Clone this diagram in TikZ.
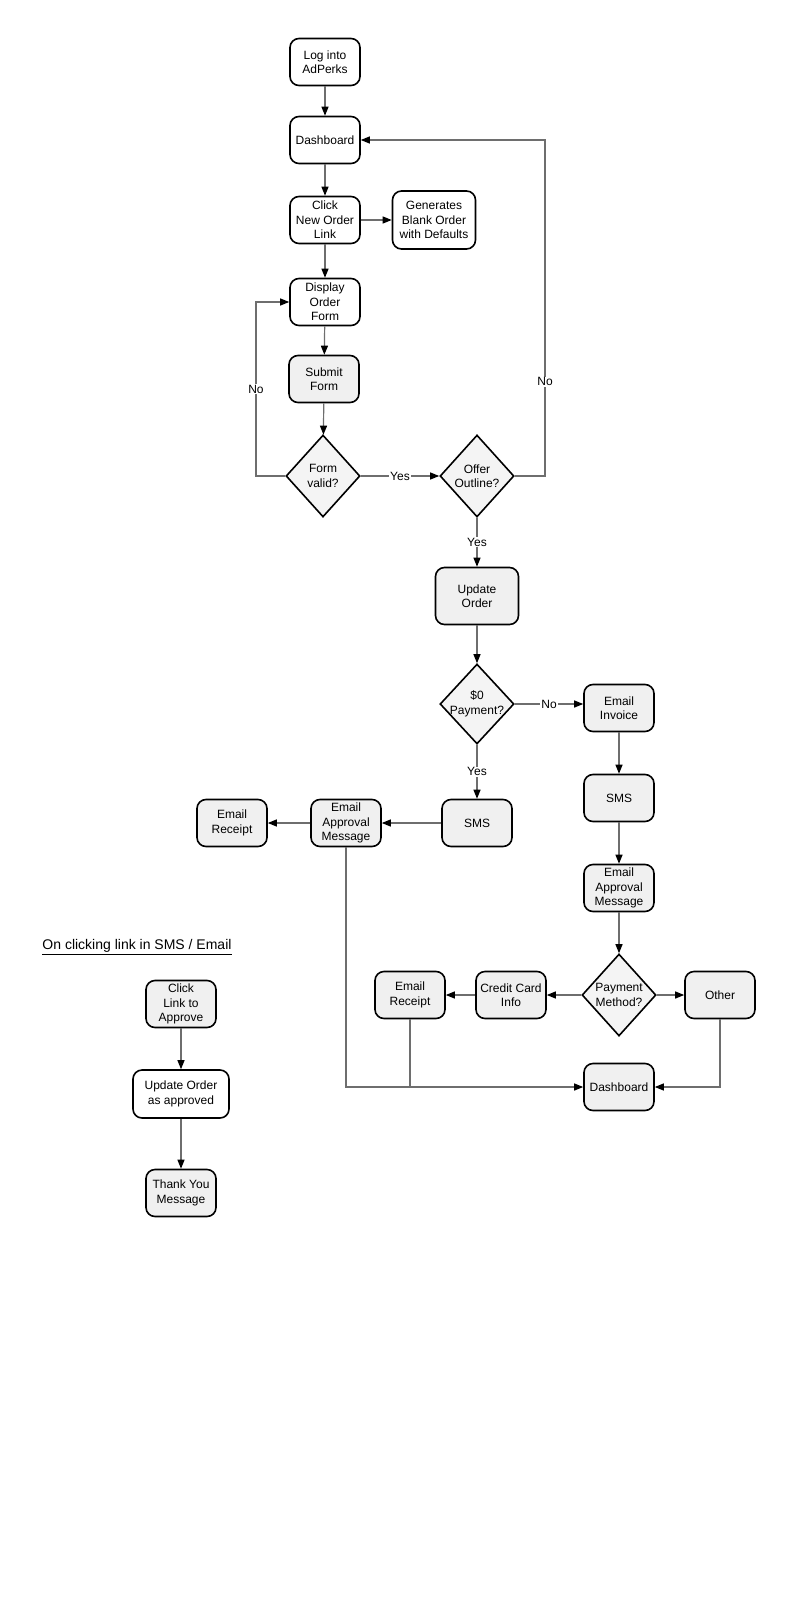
\documentclass[tikz,border=0pt]{standalone}
\usepackage{fontspec}
\setmainfont{Liberation Sans}
\usetikzlibrary{shapes.geometric,arrows.meta}
\definecolor{boxgray}{HTML}{F0F0F0}
\definecolor{linegray}{HTML}{6E6E6E}
\begin{document}
\begin{tikzpicture}[x=1pt,y=-1pt,
    every node/.style={font=\fontsize{12}{14.5}\selectfont},
    proc/.style={rectangle, rounded corners=9pt, draw=black, line width=1.6pt, fill=white, minimum width=70pt, minimum height=47pt, align=center, inner sep=1pt},
    gproc/.style={proc, fill=boxgray},
    decide/.style={diamond, draw=black, line width=1.6pt, fill=boxgray!70, minimum width=74pt, minimum height=82pt, inner sep=0pt},
    flow/.style={draw=linegray, line width=1.2pt, -{Triangle[black,length=9pt,width=7pt]}},
    tag/.style={fill=white, inner sep=1pt}]
        \useasboundingbox (0,0) rectangle (800,1600);

        % main order flow
        \node[proc] (login) at (325,62) {Log into\\AdPerks};
        \node[proc] (dash1) at (325,140) {Dashboard};
        \node[proc] (click) at (325,220) {Click\\New Order\\Link};
        \node[proc, minimum width=83pt, minimum height=58pt] (gen) at (434,220) {Generates\\Blank Order\\with Defaults};
        \node[proc] (display) at (325,302) {Display\\Order\\Form};
        \node[gproc] (submit) at (324,379) {Submit\\Form};
        \node[decide, label={[align=center]center:{Form\\valid?}}] (valid) at (323,476) {};
        \node[decide, label={[align=center]center:{Offer\\Outline?}}] (offer) at (477,476) {};
        \node[gproc, minimum width=83pt, minimum height=57pt] (update) at (477,596) {Update\\Order};
        \node[decide, minimum height=80pt, label={[align=center]center:{\$0\\Payment?}}] (pay0) at (477,704) {};

        % zero payment branch
        \node[gproc] (sms1) at (477,823) {SMS};
        \node[gproc] (appr1) at (346,823) {Email\\Approval\\Message};
        \node[gproc] (rcpt1) at (232,823) {Email\\Receipt};

        % invoice branch
        \node[gproc] (invoice) at (619,708) {Email\\Invoice};
        \node[gproc] (sms2) at (619,798) {SMS};
        \node[gproc] (appr2) at (619,888) {Email\\Approval\\Message};
        \node[decide, label={[align=center]center:{Payment\\Method?}}] (method) at (619,995) {};
        \node[gproc] (other) at (720,995) {Other};
        \node[gproc] (cc) at (511,995) {Credit Card\\Info};
        \node[gproc] (rcpt2) at (410,995) {Email\\Receipt};
        \node[gproc] (dash2) at (619,1087) {Dashboard};

        % approval link flow
        \node (title) at (137,947) {\fontsize{14}{16}\selectfont\underline{On clicking link in SMS / Email}};
        \node[gproc] (approve) at (181,1004) {Click\\Link to\\Approve};
        \node[proc, minimum width=96pt, minimum height=48pt] (approved) at (181,1094) {Update Order\\as approved};
        \node[gproc] (thanks) at (181,1193) {Thank You\\Message};

        \draw[flow] (login) -- (dash1);
        \draw[flow] (dash1) -- (click);
        \draw[flow] (click) -- (gen);
        \draw[flow] (click) -- (display);
        \draw[flow] (display) -- (submit);
        \draw[flow] (submit) -- (valid);
        \draw[flow] (valid.west) -- (256,476) |- (display.west) node[tag, pos=0.25] {No};
        \draw[flow] (valid.east) -- (offer.west) node[tag, midway] {Yes};
        \draw[flow] (offer.east) -- (545,476) |- (dash1.east) node[tag, pos=0.14] {No};
        \draw[flow] (offer.south) -- (update.north) node[tag, midway] {Yes};
        \draw[flow] (update) -- (pay0.north);
        \draw[flow] (pay0.east) -- (pay0.east -| invoice.west) node[tag, midway] {No};
        \draw[flow] (pay0.south) -- (sms1.north) node[tag, midway] {Yes};
        \draw[flow] (sms1) -- (appr1);
        \draw[flow] (appr1) -- (rcpt1);
        \draw[flow] (invoice) -- (sms2);
        \draw[flow] (sms2) -- (appr2);
        \draw[flow] (appr2) -- (method.north);
        \draw[flow] (method.west) -- (cc);
        \draw[flow] (cc) -- (rcpt2);
        \draw[flow] (method.east) -- (other);
        \draw[flow] (appr1.south) |- (dash2.west);
        \draw[draw=linegray, line width=1.2pt] (rcpt2.south) -- (rcpt2.south |- dash2.west);
        \draw[flow] (other.south) |- (dash2.east);
        \draw[flow] (approve) -- (approved);
        \draw[flow] (approved) -- (thanks);

    \end{tikzpicture}
\end{document}
